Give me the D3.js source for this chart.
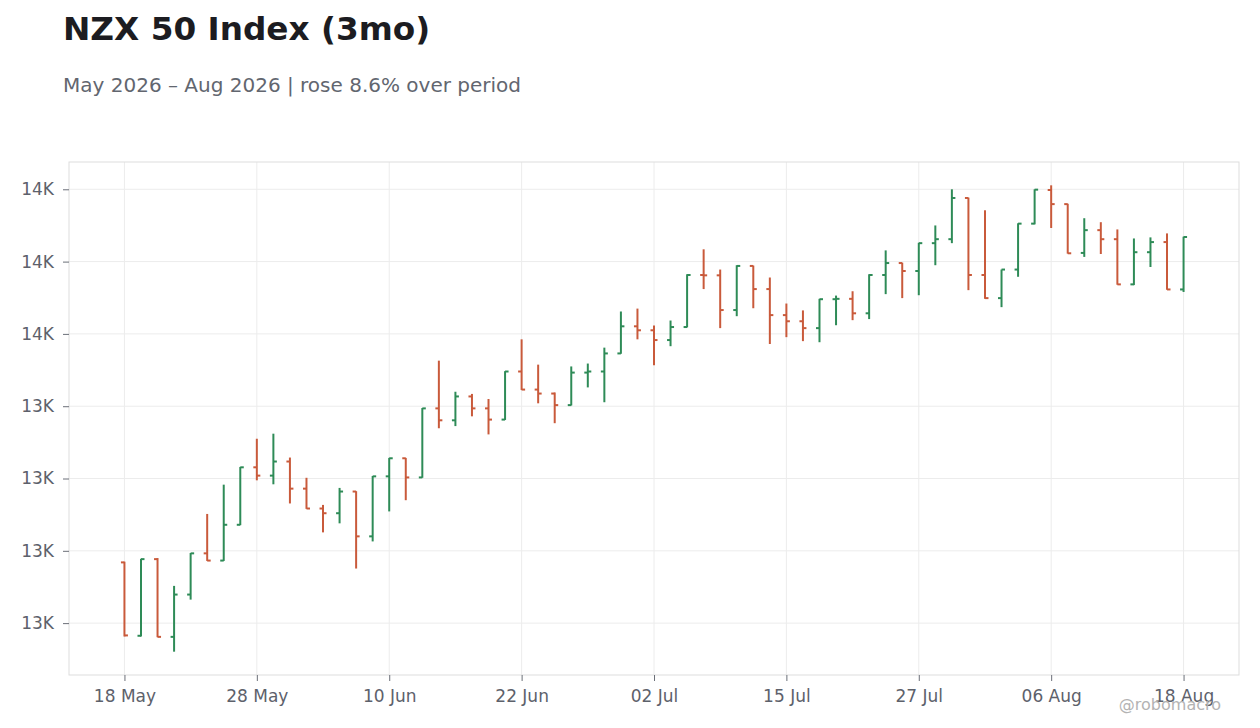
<!DOCTYPE html>
<html>
<head>
<meta charset="utf-8">
<title>NZX 50 Index (3mo)</title>
<script src="https://cdn.jsdelivr.net/npm/d3@7"></script>
<style>
    body { margin: 0; background: #ffffff; font-family: "DejaVu Sans", sans-serif; }
    .tick text { font-family: "DejaVu Sans", sans-serif; }
</style>
</head>
<body>
<div id="chart"></div>
<script>
// 1: DATA (trading days, NZ holidays skipped)
const dates = [
    "2026-05-18","2026-05-19","2026-05-20","2026-05-21","2026-05-22","2026-05-25","2026-05-26","2026-05-27","2026-05-28","2026-05-29",
    "2026-06-02","2026-06-03","2026-06-04","2026-06-05","2026-06-08","2026-06-09","2026-06-10","2026-06-11","2026-06-12","2026-06-15",
    "2026-06-16","2026-06-17","2026-06-18","2026-06-19","2026-06-22","2026-06-23","2026-06-24","2026-06-25","2026-06-26","2026-06-29",
    "2026-06-30","2026-07-01","2026-07-02","2026-07-03","2026-07-06","2026-07-07","2026-07-08","2026-07-09","2026-07-13","2026-07-14",
    "2026-07-15","2026-07-16","2026-07-17","2026-07-20","2026-07-21","2026-07-22","2026-07-23","2026-07-24","2026-07-27","2026-07-28",
    "2026-07-29","2026-07-30","2026-07-31","2026-08-03","2026-08-04","2026-08-05","2026-08-06","2026-08-07","2026-08-10","2026-08-11",
    "2026-08-12","2026-08-13","2026-08-14","2026-08-17","2026-08-18"
];
const openVals = [
    12968,12765,12977,12762,12879,12993,12973,13072,13231,13208,
    13247,13172,13117,13104,13164,13040,13206,13256,13203,13394,
    13361,13427,13394,13363,13496,13446,13435,13403,13493,13496,
    13546,13621,13610,13583,13619,13763,13762,13666,13788,13724,
    13652,13635,13616,13696,13697,13657,13763,13796,13774,13851,
    13862,13976,13763,13699,13778,13905,13998,13959,13824,13887,
    13862,13737,13826,13854,13723
];
const highVals = [
    12970,12978,12980,12903,12994,13102,13183,13232,13310,13324,
    13258,13202,13127,13174,13165,13207,13257,13257,13395,13526,
    13440,13434,13420,13497,13585,13515,13438,13510,13518,13562,
    13662,13670,13623,13637,13765,13834,13778,13790,13789,13756,
    13684,13665,13697,13706,13718,13765,13831,13797,13852,13900,
    14000,13977,13942,13778,13906,14000,14011,13960,13920,13909,
    13889,13864,13867,13878,13869
];
const lowVals = [
    12763,12763,12761,12721,12865,12972,12972,13071,13195,13184,
    13131,13116,13051,13076,12951,13026,13109,13140,13202,13339,
    13345,13372,13322,13362,13445,13408,13353,13402,13452,13411,
    13545,13585,13513,13566,13618,13724,13616,13649,13671,13572,
    13591,13580,13577,13624,13638,13641,13710,13699,13707,13790,
    13851,13721,13697,13674,13758,13903,13893,13822,13813,13821,
    13736,13735,13785,13722,13716
];
const closeVals = [
    12766,12977,12762,12879,12993,12973,13072,13231,13208,13247,
    13172,13117,13104,13164,13040,13206,13256,13203,13394,13361,
    13427,13394,13363,13496,13446,13435,13403,13493,13496,13546,
    13621,13610,13583,13619,13763,13762,13666,13788,13724,13652,
    13635,13616,13696,13697,13657,13763,13796,13774,13851,13862,
    13976,13763,13699,13778,13905,13999,13959,13823,13887,13862,
    13737,13826,13854,13723,13868
];
const yTicks = [12800, 13000, 13200, 13400, 13600, 13800, 14000];
const xTickEvery = 8;

// 2: SIZES
const W = 1260, H = 728;
const margin = { top: 162, right: 21, bottom: 53, left: 69 };
const width = W - margin.left - margin.right;
const height = H - margin.top - margin.bottom;

const upColor = "#2e8b57";
const downColor = "#c95a3b";

const parseDate = d3.timeParse("%Y-%m-%d");
const data = dates.map((d, i) => ({
    i: i,
    date: parseDate(d),
    open: openVals[i],
    high: highVals[i],
    low: lowVals[i],
    close: closeVals[i]
}));

const svg = d3.select("#chart")
    .append("svg")
    .attr("width", W)
    .attr("height", H);

// title + subtitle
const pct = (data[data.length - 1].close / data[0].close - 1) * 100;
const fmtMonth = d3.timeFormat("%b %Y");
svg.append("text")
    .attr("x", 63)
    .attr("y", 40)
    .attr("font-size", 32.7)
    .attr("font-weight", "bold")
    .attr("fill", "#1c1c21")
    .text("NZX 50 Index (3mo)");
svg.append("text")
    .attr("x", 63)
    .attr("y", 92)
    .attr("font-size", 20)
    .attr("fill", "#62666f")
    .text(`${fmtMonth(data[0].date)} – ${fmtMonth(data[data.length - 1].date)} | ${pct >= 0 ? "rose" : "fell"} ${Math.abs(pct).toFixed(1)}% over period`);

const g = svg.append("g")
    .attr("transform", `translate(${margin.left},${margin.top})`);

// 3: SCALES
const xScale = d3.scalePoint()
    .domain(data.map(d => d.i))
    .range([0, width])
    .padding(3.35);

const yMin = d3.min(data, d => d.low), yMax = d3.max(data, d => d.high);
const pad = (yMax - yMin) * 0.05;
const yScale = d3.scaleLinear()
    .domain([yMin - pad, yMax + pad])
    .range([height, 0]);

// gridlines
const xTickIdx = data.filter(d => d.i % xTickEvery === 0).map(d => d.i);
g.selectAll(".hgrid")
    .data(yTicks)
    .enter()
    .append("line")
    .attr("x1", 0).attr("x2", width)
    .attr("y1", d => yScale(d)).attr("y2", d => yScale(d))
    .attr("stroke", "#ececec");
g.selectAll(".vgrid")
    .data(xTickIdx)
    .enter()
    .append("line")
    .attr("x1", d => xScale(d)).attr("x2", d => xScale(d))
    .attr("y1", 0).attr("y2", height)
    .attr("stroke", "#ececec");

// plot frame
g.append("rect")
    .attr("width", width)
    .attr("height", height)
    .attr("fill", "none")
    .attr("stroke", "#dddddd");

// 4: AXES
const fmtK = v => Math.round(v / 1000) + "K";
const yAxis = g.append("g")
    .call(d3.axisLeft(yScale).tickValues(yTicks).tickFormat(fmtK).tickSize(6).tickPadding(9));
const xAxis = g.append("g")
    .attr("transform", `translate(0,${height})`)
    .call(d3.axisBottom(xScale).tickValues(xTickIdx)
        .tickFormat(i => d3.timeFormat("%d %b")(data[i].date)).tickSize(6).tickPadding(9));

[yAxis, xAxis].forEach(ax => {
    ax.select(".domain").remove();
    ax.selectAll(".tick line").attr("stroke", "#6b6f78");
    ax.selectAll(".tick text")
        .attr("font-size", 17)
        .attr("fill", "#5d616b");
});

// 5: OHLC BARS
const tickLen = 3.5;
const bars = g.selectAll(".ohlc")
    .data(data)
    .enter()
    .append("g")
    .attr("class", "ohlc")
    .attr("stroke", d => d.close >= d.open ? upColor : downColor)
    .attr("stroke-width", 2);

bars.append("line")
    .attr("x1", d => xScale(d.i)).attr("x2", d => xScale(d.i))
    .attr("y1", d => yScale(d.high)).attr("y2", d => yScale(d.low));
bars.append("line")
    .attr("x1", d => xScale(d.i) - tickLen).attr("x2", d => xScale(d.i))
    .attr("y1", d => yScale(d.open)).attr("y2", d => yScale(d.open));
bars.append("line")
    .attr("x1", d => xScale(d.i)).attr("x2", d => xScale(d.i) + tickLen)
    .attr("y1", d => yScale(d.close)).attr("y2", d => yScale(d.close));

// watermark
svg.append("text")
    .attr("x", 1221)
    .attr("y", 710)
    .attr("text-anchor", "end")
    .attr("font-size", 16)
    .attr("fill", "#b3b3b3")
    .text("@robomacro");
</script>
</body>
</html>
